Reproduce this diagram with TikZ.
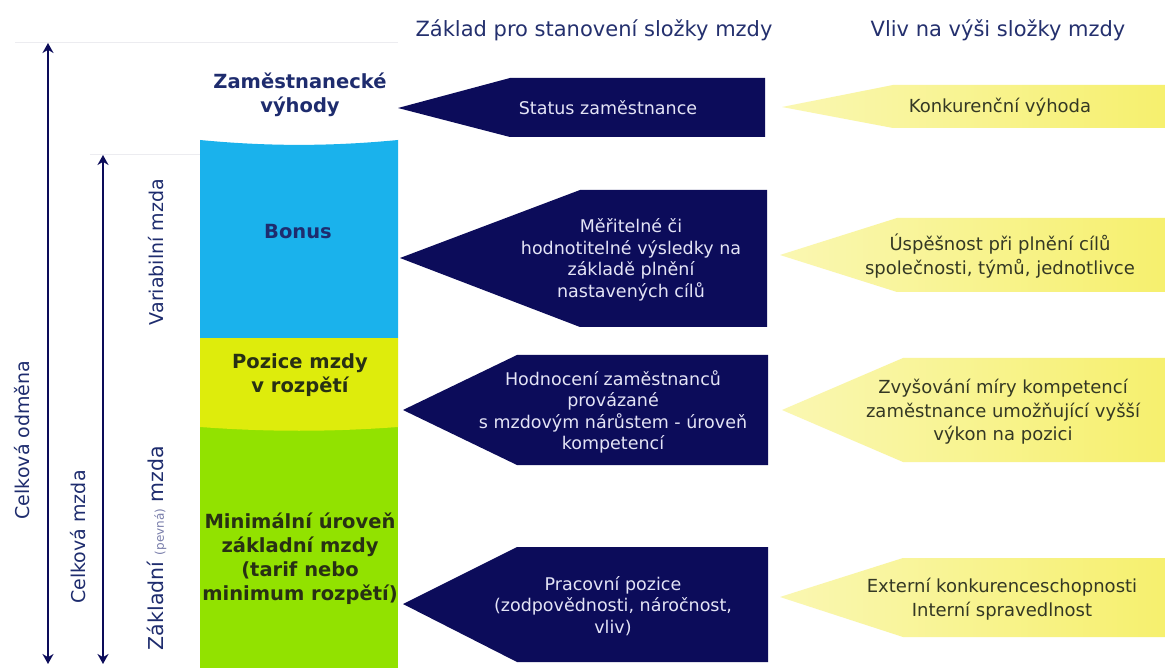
\documentclass[tikz,border=0pt]{standalone}
\usepackage{fontspec}
\setmainfont{DejaVu Sans}
\usetikzlibrary{arrows.meta}
\definecolor{navy}{RGB}{12,12,90}
\definecolor{hdrblue}{RGB}{36,48,110}
\definecolor{colblue}{RGB}{26,178,236}
\definecolor{colyel}{RGB}{222,236,12}
\definecolor{colgreen}{RGB}{146,226,0}
\definecolor{yelL}{RGB}{250,247,178}
\definecolor{yelR}{RGB}{246,240,110}
\definecolor{olivetext}{RGB}{52,56,36}
\definecolor{navytext}{RGB}{228,228,246}
\definecolor{coltext}{RGB}{40,48,20}
\definecolor{colnavy}{RGB}{30,44,110}
\definecolor{faint}{RGB}{236,236,240}
\definecolor{pevna}{RGB}{120,125,170}
\begin{document}
\begin{tikzpicture}[x=1pt,y=-1pt,
  hdr/.style={font=\fontsize{21}{24}\selectfont, text=hdrblue, inner sep=0pt},
  navytxt/.style={font=\fontsize{17.5}{21.5}\selectfont, text=navytext, align=center, inner sep=0pt},
  yeltxt/.style={font=\fontsize{18}{23.5}\selectfont, text=olivetext, align=center, inner sep=0pt},
  coltxt/.style={font=\bfseries\fontsize{19.5}{24}\selectfont, align=center, inner sep=0pt},
  sidelbl/.style={font=\fontsize{19}{23}\selectfont, text=colnavy, rotate=90, inner sep=0pt},
  navyarrow/.style={fill=navy},
  yelarrow/.style={left color=yelL, right color=yelR},
  vline/.style={draw=navy, line width=1.8pt, {Stealth[length=10pt,width=11pt]}-{Stealth[length=10pt,width=11pt]}},
  faintline/.style={draw=faint, line width=1pt}
]
\useasboundingbox (0,0) rectangle (1165,668);
\fill[white] (0,0) rectangle (1165,668);

% faint guide lines
\draw[faintline] (15,43) -- (398,43);
\draw[faintline] (90,155) -- (200,155);

% column
\fill[colgreen] (200,420) rectangle (398,668);
\fill[colyel] (200,338) -- (398,338) -- (398,427) .. controls (330,432) and (268,432) .. (200,427) -- cycle;
\fill[colblue] (200,140) .. controls (268,146.5) and (330,146.5) .. (398,140) -- (398,338) -- (200,338) -- cycle;

\node[coltxt, text=colnavy] (vyhody) at (300,95) {Zaměstnanecké\\výhody};
\node[coltxt, text=colnavy] (bonus) at (298,232) {Bonus};
\node[coltxt, text=coltext] (pozice) at (300,375) {Pozice mzdy\\v rozpětí};
\node[coltxt, text=coltext] (minimum) at (300,559) {Minimální úroveň\\základní mzdy\\(tarif nebo\\minimum rozpětí)};

% headers
\node[hdr] (h1) at (594,30) {Základ pro stanovení složky mzdy};
\node[hdr] (h2) at (998,30) {Vliv na výši složky mzdy};

% navy arrows
\path[navyarrow] (398,108) -- (510,78) -- (765,78) -- (765,137) -- (510,137) -- cycle;
\path[navyarrow] (400,258) -- (580,190) -- (767,190) -- (767,327) -- (580,327) -- cycle;
\path[navyarrow] (403,410) -- (517,355) -- (768,355) -- (768,465) -- (517,465) -- cycle;
\path[navyarrow] (403,604) -- (517,547) -- (768,547) -- (768,662) -- (517,662) -- cycle;

\node[navytxt] (n1) at (608,108) {Status zaměstnance};
\node[navytxt] (n2) at (631,260) {Měřitelné či\\hodnotitelné výsledky na\\základě plnění\\nastavených cílů};
\node[navytxt] (n3) at (613,412) {Hodnocení zaměstnanců\\provázané\\s mzdovým nárůstem - úroveň\\kompetencí};
\node[navytxt] (n4) at (613,606) {Pracovní pozice\\(zodpovědnosti, náročnost,\\vliv)};

% yellow arrows
\path[yelarrow] (782,107) -- (893,85) -- (1165,85) -- (1165,128) -- (893,128) -- cycle;
\path[yelarrow] (780,255) -- (897,218) -- (1165,218) -- (1165,292) -- (897,292) -- cycle;
\path[yelarrow] (782,410) -- (903,358) -- (1165,358) -- (1165,462) -- (903,462) -- cycle;
\path[yelarrow] (780,597) -- (903,558) -- (1165,558) -- (1165,637) -- (903,637) -- cycle;

\node[yeltxt] (y1) at (1000,107) {Konkurenční výhoda};
\node[yeltxt] (y2) at (1000,256) {Úspěšnost při plnění cílů\\společnosti, týmů, jednotlivce};
\node[yeltxt] (y3) at (1003,412) {Zvyšování míry kompetencí\\zaměstnance umožňující vyšší\\výkon na pozici};
\node[yeltxt] (y4) at (1002,599) {Externí konkurenceschopnosti\\Interní spravedlnost};

% vertical arrows
\coordinate (oT) at (48,43);
\coordinate (oB) at (48,664);
\coordinate (iT) at (103,155);
\coordinate (iB) at (103,664);
\draw[vline] (oT) -- (oB);
\draw[vline] (iT) -- (iB);

\node[sidelbl] (celkodm) at (22,440) {Celková odměna};
\node[sidelbl] (celkmz) at (78,537) {Celková mzda};
\node[sidelbl] (variab) at (156,252) {Variabilní mzda};
\node[sidelbl, font=\fontsize{20.5}{23}\selectfont] (zaklad) at (157,548) {Základní {\fontsize{12}{13}\selectfont\color{pevna}(pevná)} mzda};
\end{tikzpicture}
\end{document}
